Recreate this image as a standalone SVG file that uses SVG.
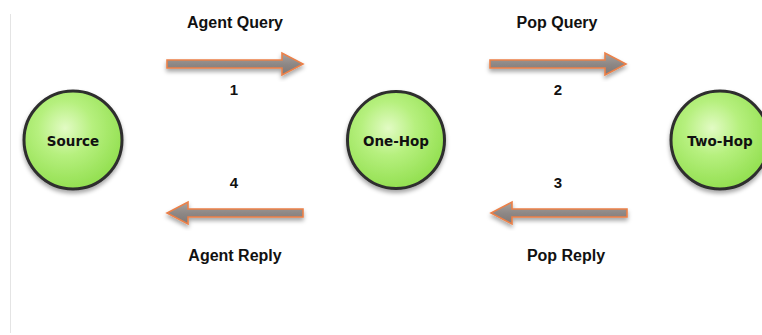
<svg xmlns="http://www.w3.org/2000/svg" width="762" height="335" viewBox="0 0 762 335">
  <defs>
    <radialGradient id="ballFill" cx="0.42" cy="0.38" r="0.62">
      <stop offset="0" stop-color="#e2fbc4"/>
      <stop offset="0.45" stop-color="#b6f07e"/>
      <stop offset="1" stop-color="#94e052"/>
    </radialGradient>
    <linearGradient id="shaftFill" x1="0" y1="0" x2="0" y2="1">
      <stop offset="0" stop-color="#a8a29e"/>
      <stop offset="0.5" stop-color="#8e8886"/>
      <stop offset="1" stop-color="#7e7876"/>
    </linearGradient>
    <filter id="softShadow" x="-20%" y="-20%" width="140%" height="150%">
      <feDropShadow dx="0" dy="3" stdDeviation="2.2" flood-color="#000" flood-opacity="0.35"/>
    </filter>
    <path id="arrowShape" d="M0,-4 H115 V-11 L136,0 L115,11 V4 H0 Z"/>
  </defs>
  <style>
    .ball { fill: url(#ballFill); stroke: #2e2e2e; stroke-width: 3; filter: url(#softShadow); }
    .nodeText { font-family: "DejaVu Sans", "Liberation Sans", sans-serif; font-weight: bold; font-size: 13.5px; fill: #111; text-anchor: middle; }
    .arrow { fill: url(#shaftFill); stroke: #ec8048; stroke-width: 1.6; stroke-linejoin: miter; filter: url(#softShadow); }
    .label { font-family: "Liberation Sans", Arial, sans-serif; font-weight: bold; font-size: 16px; fill: #111; text-anchor: middle; }
    .step { font-family: "Liberation Sans", Arial, sans-serif; font-weight: bold; font-size: 15px; fill: #111; text-anchor: middle; }
  </style>

  <rect width="762" height="335" fill="#ffffff"/>
  <line x1="10.5" y1="14" x2="10.5" y2="333" stroke="#e4e4e4" stroke-width="1"/>

  <g id="connectors">
    <use href="#arrowShape" class="arrow" transform="translate(167,64)"/>
    <use href="#arrowShape" class="arrow" transform="translate(490,64)"/>
    <use href="#arrowShape" class="arrow" transform="translate(303,213) scale(-1,1)"/>
    <use href="#arrowShape" class="arrow" transform="translate(627,213) scale(-1,1)"/>
    <text class="label" x="235" y="28">Agent Query</text>
    <text class="step" x="234" y="95">1</text>
    <text class="label" x="557" y="28">Pop Query</text>
    <text class="step" x="558" y="95">2</text>
    <text class="step" x="558" y="188">3</text>
    <text class="label" x="566" y="261">Pop Reply</text>
    <text class="step" x="234" y="188">4</text>
    <text class="label" x="235" y="261">Agent Reply</text>
  </g>

  <g id="source">
    <circle class="ball" cx="73" cy="140" r="49"/>
    <text class="nodeText" x="73" y="145.5">Source</text>
  </g>
  <g id="one-hop">
    <circle class="ball" cx="396" cy="140" r="48.5"/>
    <text class="nodeText" x="396" y="145.5">One-Hop</text>
  </g>
  <g id="two-hop">
    <circle class="ball" cx="720" cy="140" r="49"/>
    <text class="nodeText" x="720" y="145.5">Two-Hop</text>
  </g>
</svg>
